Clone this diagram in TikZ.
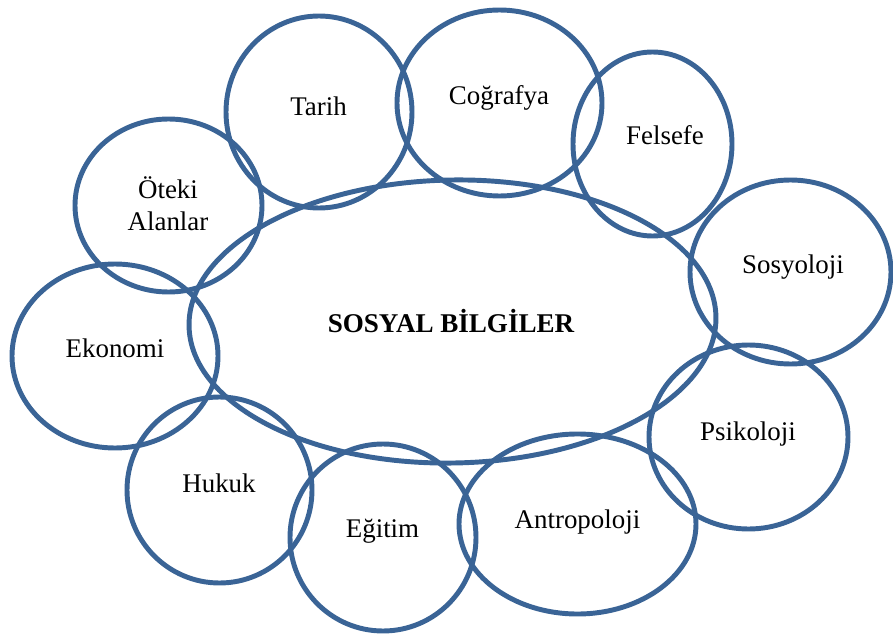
\documentclass[tikz,border=0pt]{standalone}
\usepackage{fontspec}
\setmainfont{Liberation Serif}
\usetikzlibrary{shapes.geometric}
\definecolor{sbblue}{HTML}{3A6496}
\tikzset{
  field/.style={ellipse, draw=sbblue, line width=3.7pt, inner sep=0pt},
  lbl/.style={font=\fontsize{20.2pt}{24pt}\selectfont, anchor=base, inner sep=0pt},
  mainlbl/.style={font=\fontsize{20.3pt}{24pt}\selectfont\bfseries, anchor=base, inner sep=0pt}
}
% name, cx, cy, rx, ry, label x, label baseline y, text
\newcommand{\fld}[8]{%
  \node[field, minimum width=#4*1.5pt, minimum height=#5*1.5pt] (#1) at (#2,#3) {};
  \node[lbl] (#1t) at (#6,#7) {#8};}
\begin{document}
\begin{tikzpicture}[x=0.75pt,y=-0.75pt]
\useasboundingbox (0,0) rectangle (893,642);
\node[field, minimum width=527*1.5pt/2, minimum height=283*1.5pt/2, rotate=1] (main) at (452.5,321.5) {};
\node[mainlbl] (maint) at (451,332) {SOSYAL BİLGİLER};
\fld{tarih}{319}{112}{93}{96}{318.5}{116}{Tarih}
\fld{cog}{499.5}{103}{102.5}{93}{499}{104}{Coğrafya}
\fld{fel}{652.5}{144}{79.5}{92}{665}{145}{Felsefe}
\fld{sos}{790.5}{272}{100.5}{92}{793}{273}{Sosyoloji}
\fld{psi}{748.5}{437}{99.5}{92}{748}{440}{Psikoloji}
\fld{ant}{577.5}{524}{118.5}{90}{577.5}{528}{Antropoloji}
\fld{egi}{383}{537.5}{93}{93.5}{382.5}{537}{Eğitim}
\fld{huk}{219.5}{490}{92.5}{93}{219}{492}{Hukuk}
\fld{eko}{115}{356}{103}{92}{115}{357}{Ekonomi}
\fld{ote}{168.5}{205.5}{93.5}{86.5}{168}{198}{Öteki}
\node[lbl] (ote2) at (168,230) {Alanlar};
\end{tikzpicture}
\end{document}
